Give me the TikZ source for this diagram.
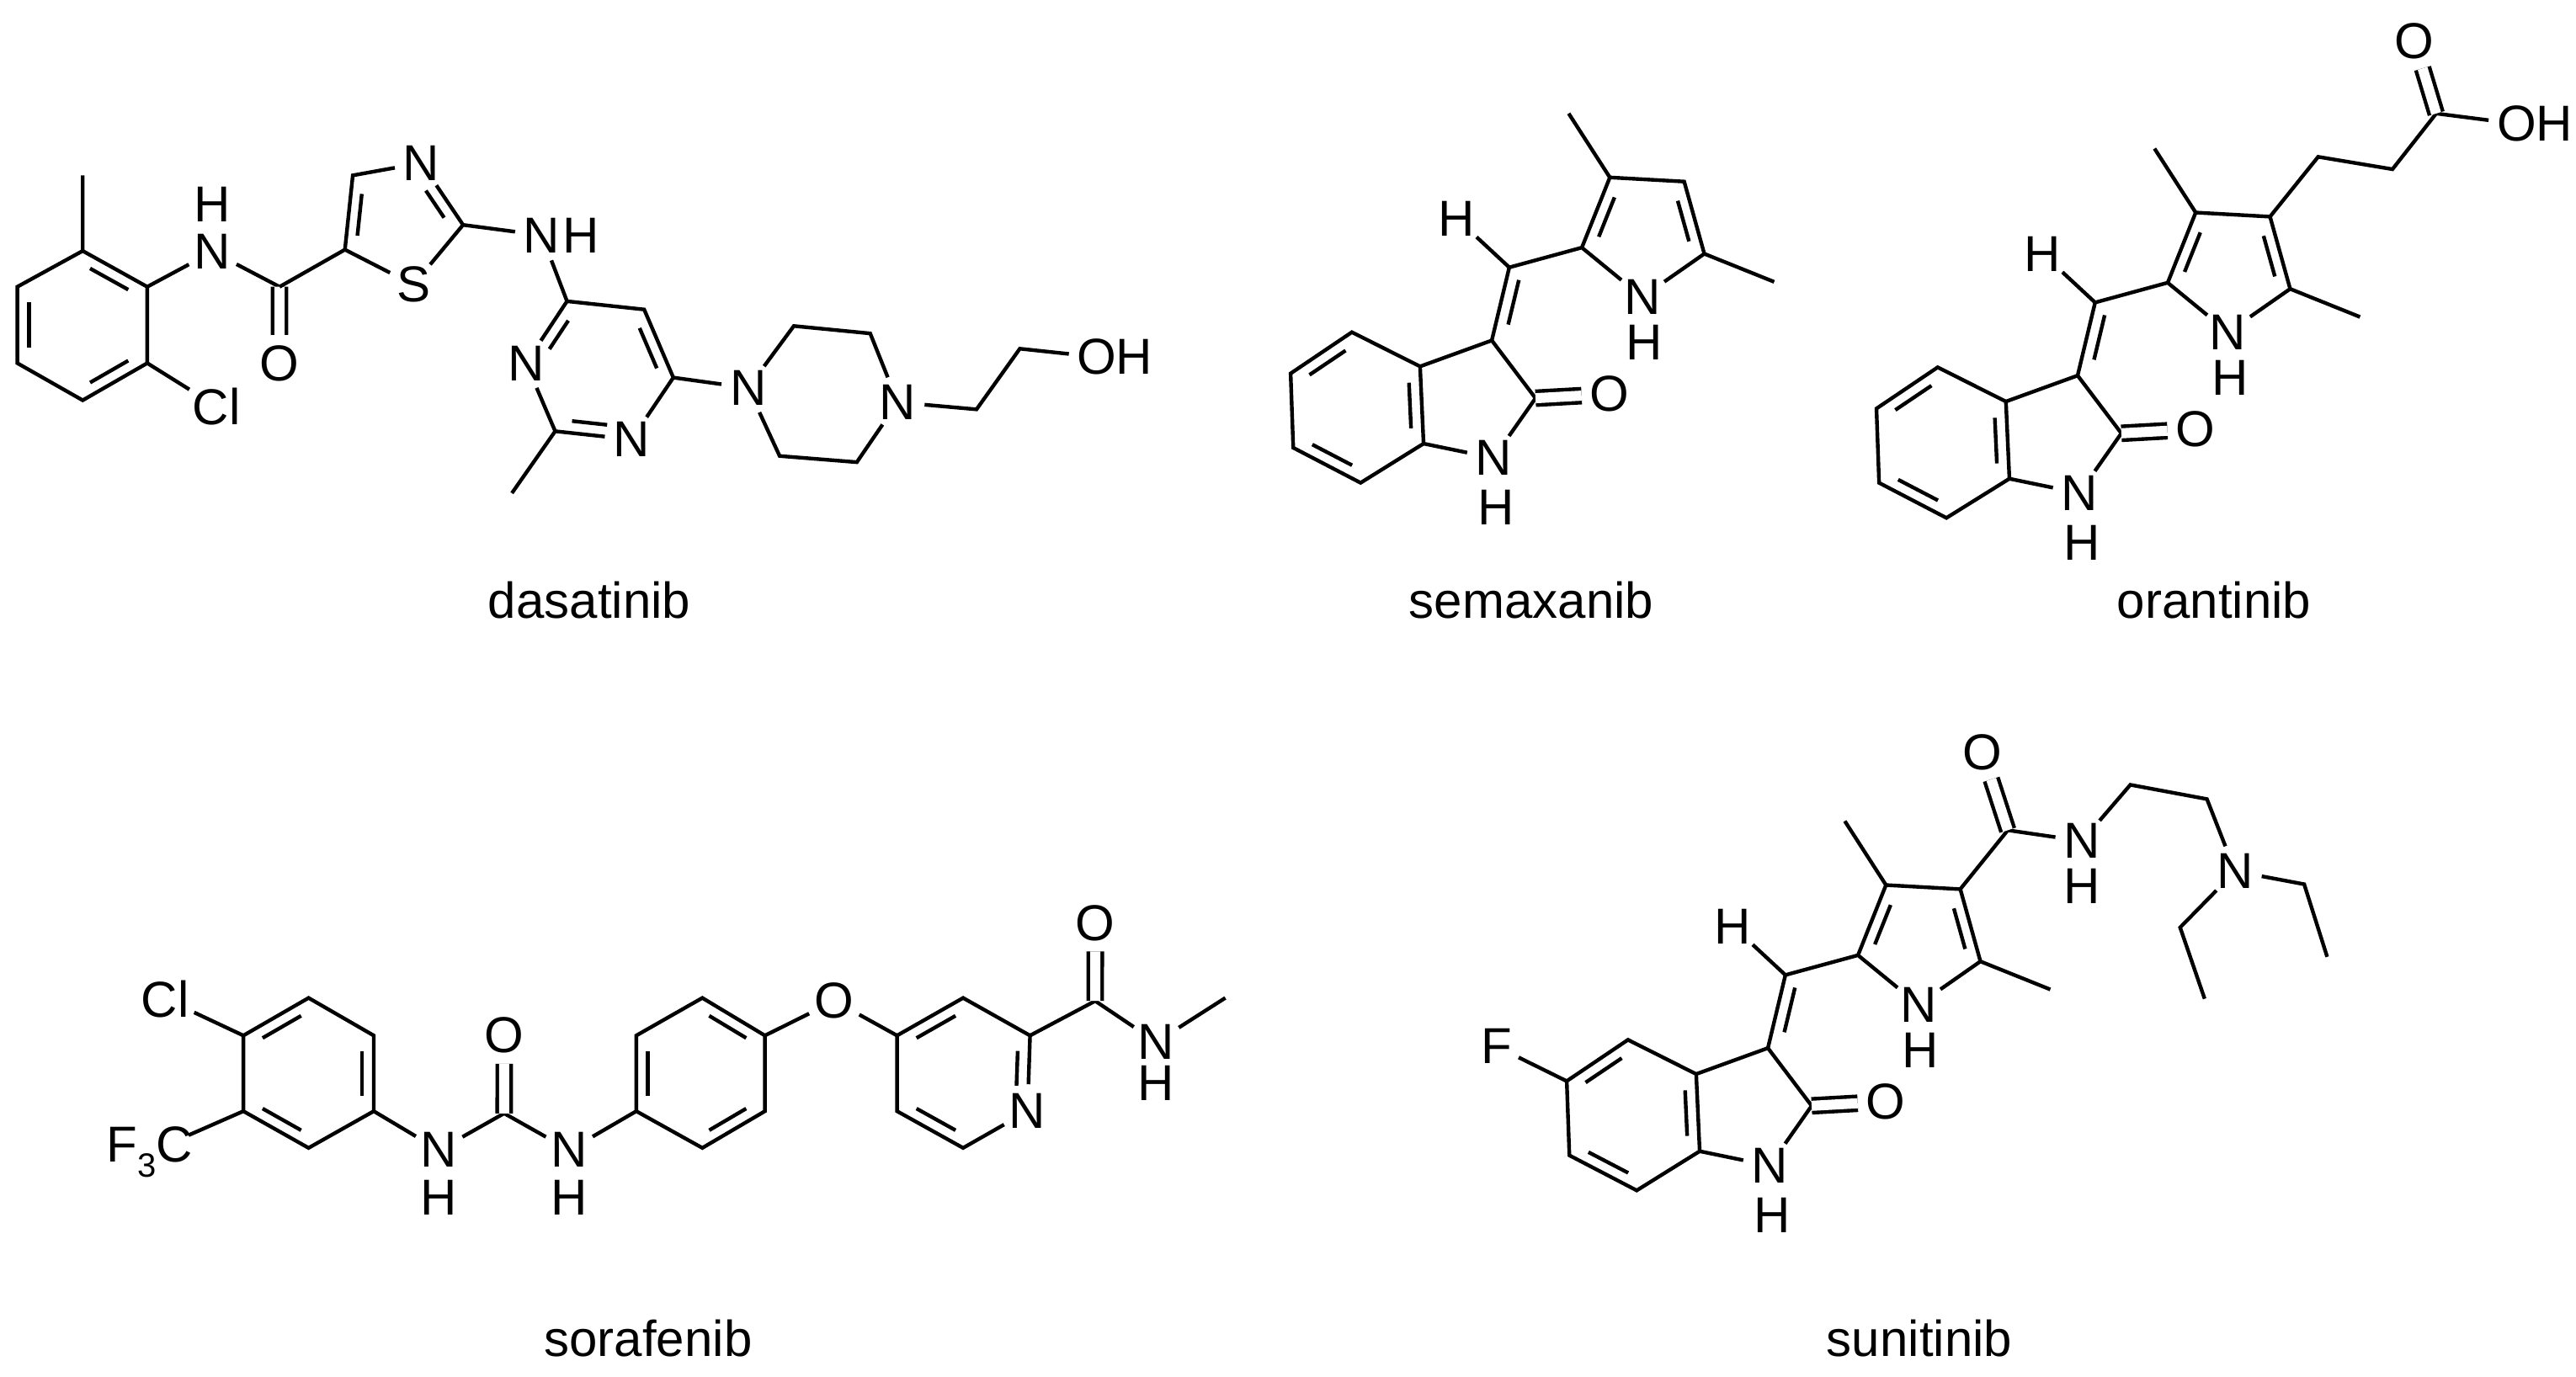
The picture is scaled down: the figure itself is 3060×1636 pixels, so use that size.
\documentclass[tikz,border=0pt]{standalone}
\usepackage{fontspec}
\setmainfont{Liberation Sans}
\usetikzlibrary{calc}
\newcommand\ib[6]{\draw ($($(#1)!#4!(#2)$)!#6!(#3)$) -- ($($(#1)!#5!(#2)$)!#6!(#3)$);}
\tikzset{
 atom/.style={circle,inner sep=0pt,font=\fontsize{15}{15}\selectfont},
 hlab/.style={inner sep=0pt,font=\fontsize{15}{15}\selectfont},
 molname/.style={inner sep=0pt,font=\fontsize{15}{15}\selectfont},
 dbl/.style={double,double distance=3pt}
}
\newcommand\core{%
 \coordinate (b1) at (150,805); \coordinate (b2) at (228,888); \coordinate (b3) at (232,1075);
 \coordinate (b4) at (160,1170); \coordinate (b5) at (83,1085); \coordinate (b6) at (80,905);
 \coordinate (bc) at (155,988);
 \draw (b1)--(b2)--(b3)--(b4)--(b5)--(b6)--cycle;
 \ib{b6}{b1}{bc}{0.14}{0.86}{0.18}\ib{b2}{b3}{bc}{0.14}{0.86}{0.18}\ib{b4}{b5}{bc}{0.14}{0.86}{0.18}
 \coordinate (c3) at (310,825); \coordinate (c2) at (360,965);
 \node[atom] (sn1) at (312,1110) {N}; \node[hlab] at (315,1230) {H};
 \draw (b2)--(c3)--(c2)--(sn1)--(b3);
 \node[atom] (so) at (445,955) {O}; \draw[dbl] (c2)--(so);
 \coordinate (ch) at (330,648);
 \node[atom] (rn) at (482,720) {N}; \node[hlab] at (484,830) {H};
 \draw (c3)--(ch); \ib{c3}{ch}{rn}{0.18}{0.85}{0.09}
 \node[atom] (sh) at (270,530) {H}; \draw (ch)--(sh);
 \coordinate (r2) at (413,600); \coordinate (r3) at (445,430); \coordinate (r4) at (530,440);
 \coordinate (r5) at (553,615); \coordinate (rc) at (485,565);
 \draw (ch)--(r2)--(r3)--(r4)--(r5)--(rn)--(r2);
 \ib{r2}{r3}{rc}{0.14}{0.86}{0.22}\ib{r4}{r5}{rc}{0.14}{0.86}{0.22}
 \draw (r3)--(398,275); \draw (r5)--(633,683);
}
\begin{document}
\begin{tikzpicture}[x=0.25pt,y=-0.25pt,line width=1.1pt]
\useasboundingbox (0,0) rectangle (3060,1636);
% ---------- dasatinib
\begin{scope}[xscale=0.9355,yscale=0.4903]
 \coordinate (a1) at (105,608); \coordinate (a2) at (187,695); \coordinate (a3) at (187,880);
 \coordinate (a4) at (105,970); \coordinate (a5) at (22,880); \coordinate (a6) at (22,695);
 \coordinate (ac) at (105,789);
 \draw (a1)--(a2)--(a3)--(a4)--(a5)--(a6)--cycle;
 \ib{a1}{a2}{ac}{0.14}{0.86}{0.18}\ib{a3}{a4}{ac}{0.14}{0.86}{0.18}\ib{a5}{a6}{ac}{0.14}{0.86}{0.18}
 \draw (a1)--(105,425);
 \node[atom] (cl) at (275,985) {Cl}; \draw (a3)--(cl);
 \node[atom] (n1) at (270,610) {N}; \node[hlab] at (270,495) {H}; \draw (a2)--(n1);
 \coordinate (c1) at (355,695); \draw (n1)--(c1);
 \node[atom] (o1) at (355,880) {O}; \draw[dbl] (c1)--(o1);
 \coordinate (t5) at (438,605); \coordinate (t4) at (448,425); \node[atom] (tn) at (535,395) {N};
 \coordinate (t2) at (588,545); \node[atom] (ts) at (525,690) {S}; \coordinate (tc) at (505,540);
 \draw (c1)--(t5)--(t4)--(tn)--(t2)--(ts)--(t5);
 \ib{t5}{t4}{tc}{0.14}{0.86}{0.22}\ib{tn}{t2}{tc}{0.3}{0.86}{0.22}
 \node[atom] (n2) at (688,570) {N}; \node[hlab] at (738,570) {H};
 \coordinate (p1) at (720,730); \coordinate (p2) at (818,750); \coordinate (p3) at (855,915);
 \node[atom] (pn3) at (802,1065) {N}; \coordinate (p5) at (705,1045); \node[atom] (pn1) at (668,880) {N};
 \coordinate (pc) at (762,895);
 \draw (t2)--(n2)--(p1);
 \draw (p1)--(p2)--(p3)--(pn3)--(p5)--(pn1)--(p1);
 \ib{p1}{pn1}{pc}{0.14}{0.7}{0.18}\ib{p2}{p3}{pc}{0.14}{0.86}{0.18}\ib{p5}{pn3}{pc}{0.14}{0.7}{0.18}
 \draw (p5)--(650,1195);
 \node[atom] (q1) at (950,940) {N}; \coordinate (qa) at (1008,790); \coordinate (qb) at (1105,808);
 \node[atom] (q4) at (1140,975) {N}; \coordinate (qc) at (1088,1120); \coordinate (qd) at (990,1105);
 \draw (p3)--(q1)--(qa)--(qb)--(q4)--(qc)--(qd)--(q1);
 \coordinate (e1) at (1240,992); \coordinate (e2) at (1295,845);
 \node[atom] (oh1) at (1393,865) {O}; \node[hlab] at (1440,865) {H};
 \draw (q4)--(e1)--(e2)--(oh1);
\end{scope}
\node[molname] at (700,713) {dasatinib};
% ---------- semaxanib
\begin{scope}[shift={(1450,0)},xscale=1.0387,yscale=0.4903]
 \core
\end{scope}
\node[molname] at (1819,713) {semaxanib};
% ---------- orantinib
\begin{scope}[shift={(2145.9,41.7)},xscale=1.0387,yscale=0.4903]
 \core
 \coordinate (g1) at (585,295); \coordinate (g2) at (670,325); \coordinate (g3) at (720,190);
 \node[atom] (go) at (695,15) {O}; \node[atom] (goh) at (812,215) {O}; \node[hlab] at (855,215) {H};
 \draw (r4)--(g1)--(g2)--(g3)--(goh); \draw[dbl] (g3)--(go);
\end{scope}
\node[molname] at (2630,713) {orantinib};
% ---------- sorafenib
\begin{scope}[shift={(0,840)},xscale=1.0323,yscale=0.5135]
 \coordinate (s1) at (280,760); \coordinate (s2) at (355,673); \coordinate (s3) at (430,760);
 \coordinate (s4) at (430,935); \coordinate (s5) at (355,1020); \coordinate (s6) at (280,935);
 \coordinate (sc) at (355,847);
 \draw (s1)--(s2)--(s3)--(s4)--(s5)--(s6)--cycle;
 \ib{s1}{s2}{sc}{0.14}{0.86}{0.18}\ib{s3}{s4}{sc}{0.14}{0.86}{0.18}\ib{s5}{s6}{sc}{0.14}{0.86}{0.18}
 \node[atom] (scl) at (190,675) {Cl}; \draw (s1)--(scl);
 \node[atom,circle,inner sep=-2pt] (f3c) at (172,1030) {F\raisebox{-0.3em}{\fontsize{10}{10}\selectfont 3}C}; \draw (s6)--(f3c);
 \node[atom] (u1) at (505,1025) {N}; \node[hlab] at (505,1135) {H};
 \coordinate (uc) at (580,940);
 \node[atom] (uo) at (580,760) {O};
 \node[atom] (u2) at (655,1025) {N}; \node[hlab] at (655,1135) {H};
 \draw (s4)--(u1)--(uc)--(u2); \draw[dbl] (uc)--(uo);
 \coordinate (v1) at (732,935); \coordinate (v2) at (732,760); \coordinate (v3) at (808,673);
 \coordinate (v4) at (880,760); \coordinate (v5) at (880,935); \coordinate (v6) at (808,1020);
 \coordinate (vc) at (806,847);
 \draw (u2)--(v1);
 \draw (v1)--(v2)--(v3)--(v4)--(v5)--(v6)--cycle;
 \ib{v1}{v2}{vc}{0.14}{0.86}{0.18}\ib{v3}{v4}{vc}{0.14}{0.86}{0.18}\ib{v5}{v6}{vc}{0.14}{0.86}{0.18}
 \node[atom] (oe) at (960,680) {O};
 \coordinate (y1) at (1032,760); \coordinate (y2) at (1108,673); \coordinate (y3) at (1185,760);
 \node[atom] (yn) at (1182,935) {N}; \coordinate (y5) at (1108,1020); \coordinate (y6) at (1032,935);
 \coordinate (yc) at (1108,847);
 \draw (v4)--(oe)--(y1);
 \draw (y1)--(y2)--(y3)--(yn)--(y5)--(y6)--(y1);
 \ib{y1}{y2}{yc}{0.14}{0.86}{0.18}\ib{y3}{yn}{yc}{0.14}{0.7}{0.18}\ib{y5}{y6}{yc}{0.14}{0.86}{0.18}
 \coordinate (k1) at (1260,680); \node[atom] (ko1) at (1260,500) {O};
 \node[atom] (kn1) at (1330,775) {N}; \node[hlab] at (1330,870) {H};
 \draw (y3)--(k1)--(kn1)--(1410,673); \draw[dbl] (k1)--(ko1);
\end{scope}
\node[molname] at (770,1590) {sorafenib};
% ---------- sunitinib
\begin{scope}[shift={(1778,840.7)},xscale=1.0387,yscale=0.4903]
 \core
\end{scope}
\begin{scope}[shift={(1650,840)},xscale=0.9097,yscale=0.5135]
 \node[atom] (sf) at (140,785) {F}; \draw (b6)--(sf);
 \coordinate (k2) at (808,285); \node[atom] (ko2) at (775,105) {O};
 \node[atom] (kn2) at (905,310) {N}; \node[hlab] at (905,415) {H};
 \node[atom] (kn3) at (1105,380) {N};
 \draw (r4)--(k2)--(kn2)--(968,180)--(1068,213)--(kn3);
 \draw[dbl] (k2)--(ko2);
 \draw (kn3)--(1195,410)--(1225,578);
 \draw (kn3)--(1033,510)--(1065,675);
\end{scope}
\node[molname] at (2280,1590) {sunitinib};
\end{tikzpicture}
\end{document}
